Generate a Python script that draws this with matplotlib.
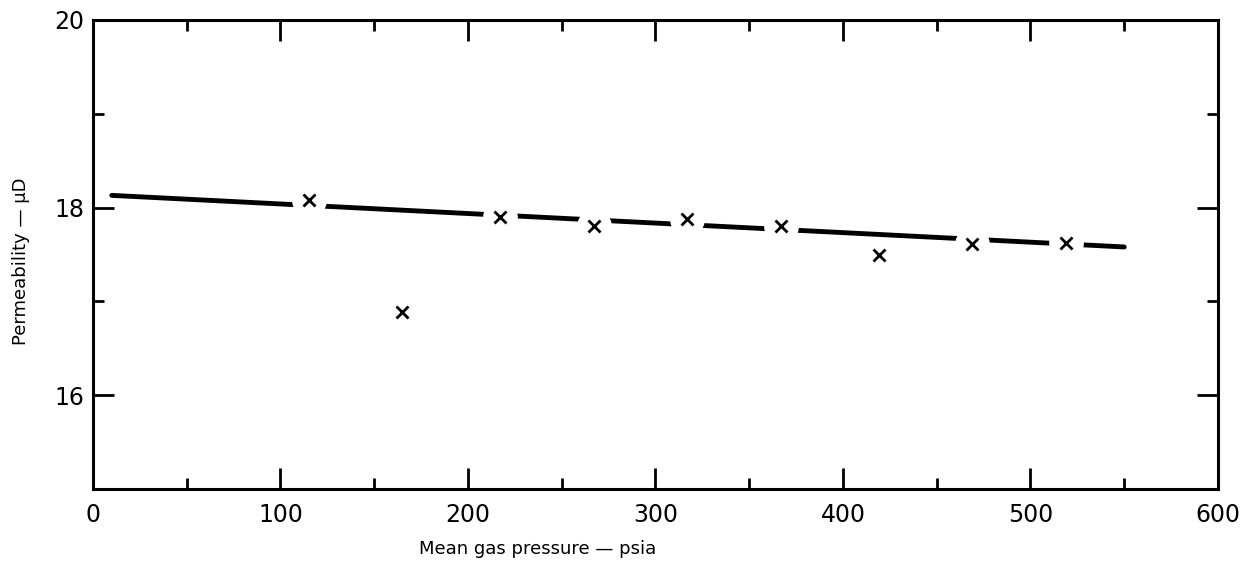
import matplotlib
matplotlib.use("Agg")
import matplotlib.pyplot as plt
import numpy as np

# Data
pressure = [115, 165, 217, 267, 317, 367, 419, 469, 519]
permeability = [18.08, 16.89, 17.90, 17.80, 17.88, 17.80, 17.49, 17.61, 17.62]
fit_x = [10, 550]
fit_y = [18.13, 17.58]

xticks_major = [0, 100, 200, 300, 400, 500, 600]
xticks_minor = [50, 150, 250, 350, 450, 550]
yticks_major = [16, 18, 20]
yticks_minor = [15, 17, 19]

plt.rcParams['font.family'] = ['DejaVu Sans']

fig = plt.figure(figsize=(12.45, 5.75), dpi=100)
ax = fig.add_axes([0.0747, 0.1496, 0.9036, 0.8157])

ax.plot(fit_x, fit_y, color='black', lw=3.5, solid_capstyle='round', zorder=2)
# gaps in the fitted line around the data points
ax.plot(pressure, permeability, linestyle='none', marker='o', markersize=25,
        markerfacecolor='white', markeredgecolor='none', zorder=3)
ax.plot(pressure, permeability, linestyle='none', marker='x', markersize=9,
        markeredgewidth=2.0, color='black', zorder=4)

ax.set_xlim(0, 600)
ax.set_ylim(15, 20)
ax.set_xticks(xticks_major)
ax.set_xticks(xticks_minor, minor=True)
ax.set_yticks(yticks_major)
ax.set_yticks(yticks_minor, minor=True)

ax.tick_params(which='both', direction='in', top=True, right=True, width=2,
               labelsize=17, colors='black')
ax.tick_params(which='major', length=15)
ax.tick_params(which='minor', length=8)
ax.tick_params(axis='x', which='major', pad=10)
ax.tick_params(axis='y', which='major', pad=6)
for s in ax.spines.values():
    s.set_linewidth(2.2)

fig.text(0.432, 0.045, 'Mean gas pressure — psia', ha='center', va='center', fontsize=13)
fig.text(0.017, 0.545, 'Permeability — μD', ha='center', va='center', fontsize=13, rotation=90)

fig.savefig('out.png', dpi=100)
